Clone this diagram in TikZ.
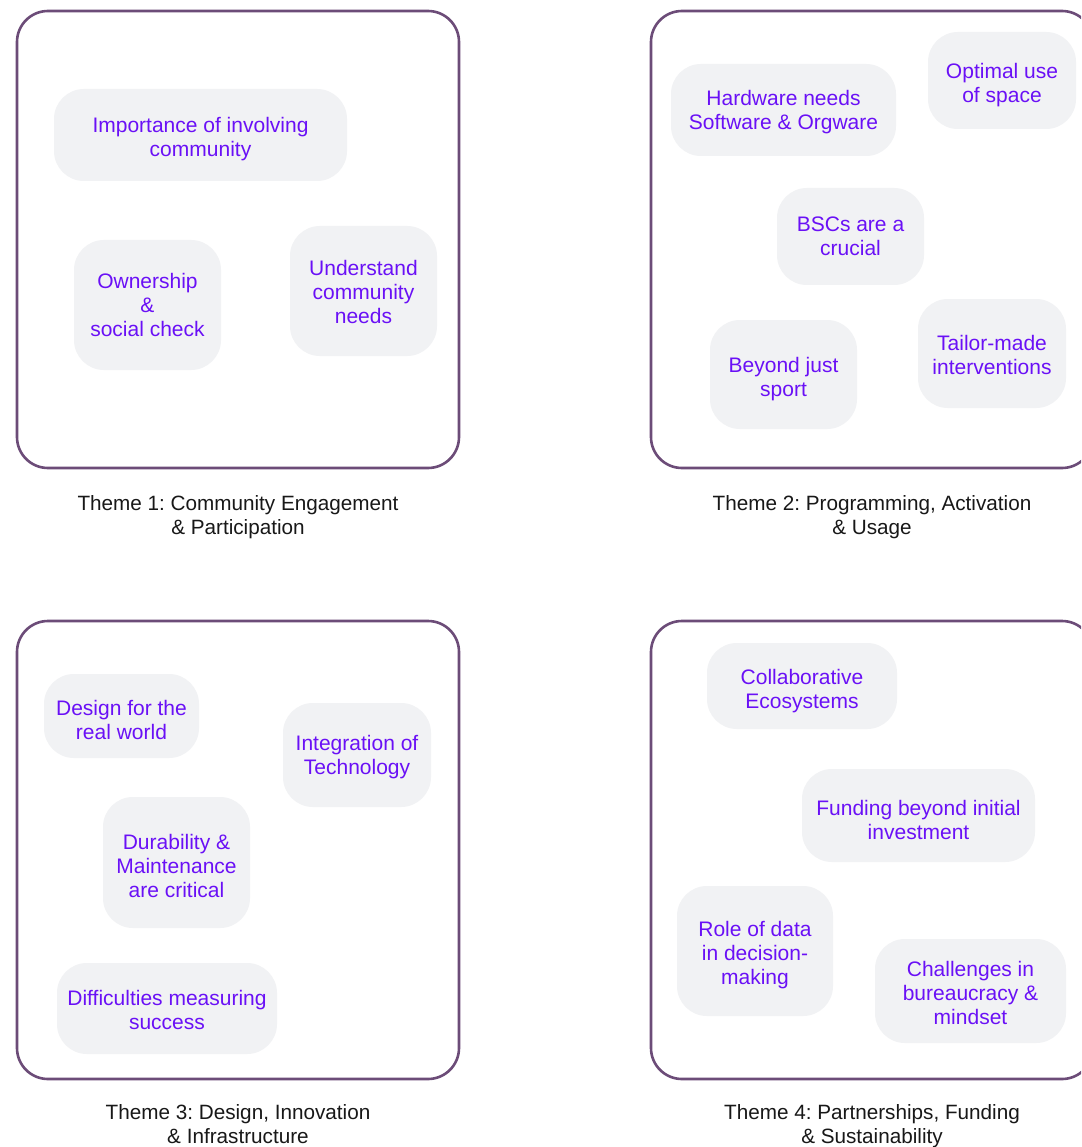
\documentclass[tikz,border=0pt]{standalone}
\usepackage{fontspec}
\setmainfont{Liberation Sans}
\frenchspacing
\definecolor{frame}{RGB}{108,76,120}
\definecolor{ideabg}{RGB}{241,242,244}
\definecolor{ideatext}{RGB}{106,16,246}
\definecolor{captext}{RGB}{24,24,24}
\tikzset{
  theme/.style={draw=frame, line width=2.6pt, rounded corners=31pt, inner sep=0pt},
  ideabox/.style={fill=ideabg, rounded corners=30pt, inner sep=0pt},
  idealabel/.style={text=ideatext, align=center, inner sep=0pt,
    font=\fontsize{21}{24}\selectfont},
  caption/.style={text=captext, align=center, inner sep=0pt,
    font=\fontsize{20.7}{24}\selectfont},
}
\begin{document}
\begin{tikzpicture}[x=1pt, y=-1pt]
  \path[use as bounding box, clip] (0,0) rectangle (1081,1147);
  \fill[white] (0,0) rectangle (1081,1147);

  % theme frames
  \node[theme, minimum width=442pt, minimum height=457pt] (t1) at (238,239.5) {};
  \node[theme, minimum width=442pt, minimum height=457pt] (t2) at (872,239.5) {};
  \node[theme, minimum width=442pt, minimum height=458pt] (t3) at (238,850) {};
  \node[theme, minimum width=442pt, minimum height=458pt] (t4) at (872,850) {};

  % captions
  \node[caption] (c1) at (238,517) {Theme 1: Community Engagement\\\& Participation};
  \node[caption] (c2) at (872,517) {Theme 2: Programming, Activation\\\& Usage};
  \node[caption] (c3) at (238,1124) {Theme 3: Design, Innovation\\\& Infrastructure};
  \node[caption] (c4) at (872,1126) {Theme 4: Partnerships, Funding\\\& Sustainability};

  % theme 1 ideas
  \node[ideabox, minimum width=293pt, minimum height=92pt] (imp) at (200.5,135) {};
  \node[idealabel] (imp-t) at ([shift={(0,4)}]imp.center) {Importance of involving\\community};
  \node[ideabox, minimum width=147pt, minimum height=130pt] (own) at (147.5,305) {};
  \node[idealabel] (own-t) at (own.center) {Ownership\\\&\\social check};
  \node[ideabox, minimum width=147pt, minimum height=130pt] (und) at (363.5,291) {};
  \node[idealabel] (und-t) at ([shift={(0,1)}]und.center) {Understand\\community\\needs};

  % theme 2 ideas
  \node[ideabox, minimum width=225pt, minimum height=92pt] (hw) at (783.5,110) {};
  \node[idealabel] (hw-t) at ([shift={(0,2)}]hw.center) {Hardware needs\\Software \& Orgware};
  \node[ideabox, minimum width=148pt, minimum height=97pt] (opt) at (1002,80.5) {};
  \node[idealabel] (opt-t) at ([shift={(0,5)}]opt.center) {Optimal use\\of space};
  \node[ideabox, minimum width=147pt, minimum height=97pt] (bsc) at (850.5,236.5) {};
  \node[idealabel] (bsc-t) at (bsc.center) {BSCs are a\\crucial};
  \node[ideabox, minimum width=147pt, minimum height=109pt] (bey) at (783.5,374.5) {};
  \node[idealabel] (bey-t) at ([shift={(0,5)}]bey.center) {Beyond just\\sport};
  \node[ideabox, minimum width=148pt, minimum height=109pt] (tai) at (992,353.5) {};
  \node[idealabel] (tai-t) at ([shift={(0,1)}]tai.center) {Tailor-made\\interventions};

  % theme 3 ideas
  \node[ideabox, minimum width=155pt, minimum height=84pt] (des) at (121.5,716) {};
  \node[idealabel] (des-t) at ([shift={(0,4)}]des.center) {Design for the\\real world};
  \node[ideabox, minimum width=148pt, minimum height=104pt] (tec) at (357,755) {};
  \node[idealabel] (tec-t) at ([shift={(0,2)}]tec.center) {Integration of\\Technology};
  \node[ideabox, minimum width=147pt, minimum height=131pt] (dur) at (176.5,862.5) {};
  \node[idealabel] (dur-t) at ([shift={(0,3)}]dur.center) {Durability \&\\Maintenance\\are critical};
  \node[ideabox, minimum width=220pt, minimum height=91pt] (dif) at (167,1008.5) {};
  \node[idealabel] (dif-t) at ([shift={(0,1)}]dif.center) {Difficulties measuring\\success};

  % theme 4 ideas
  \node[ideabox, minimum width=190pt, minimum height=86pt] (col) at (802,686) {};
  \node[idealabel] (col-t) at ([shift={(0,5)}]col.center) {Collaborative\\Ecosystems};
  \node[ideabox, minimum width=233pt, minimum height=93pt] (fun) at (918.5,815.5) {};
  \node[idealabel] (fun-t) at ([shift={(0,4)}]fun.center) {Funding beyond initial\\investment};
  \node[ideabox, minimum width=156pt, minimum height=130pt] (dat) at (755,951) {};
  \node[idealabel] (dat-t) at ([shift={(0,4)}]dat.center) {Role of data\\in decision-\\making};
  \node[ideabox, minimum width=191pt, minimum height=104pt] (cha) at (970.5,991) {};
  \node[idealabel] (cha-t) at ([shift={(0,2)}]cha.center) {Challenges in\\bureaucracy \&\\mindset};
\end{tikzpicture}
\end{document}
